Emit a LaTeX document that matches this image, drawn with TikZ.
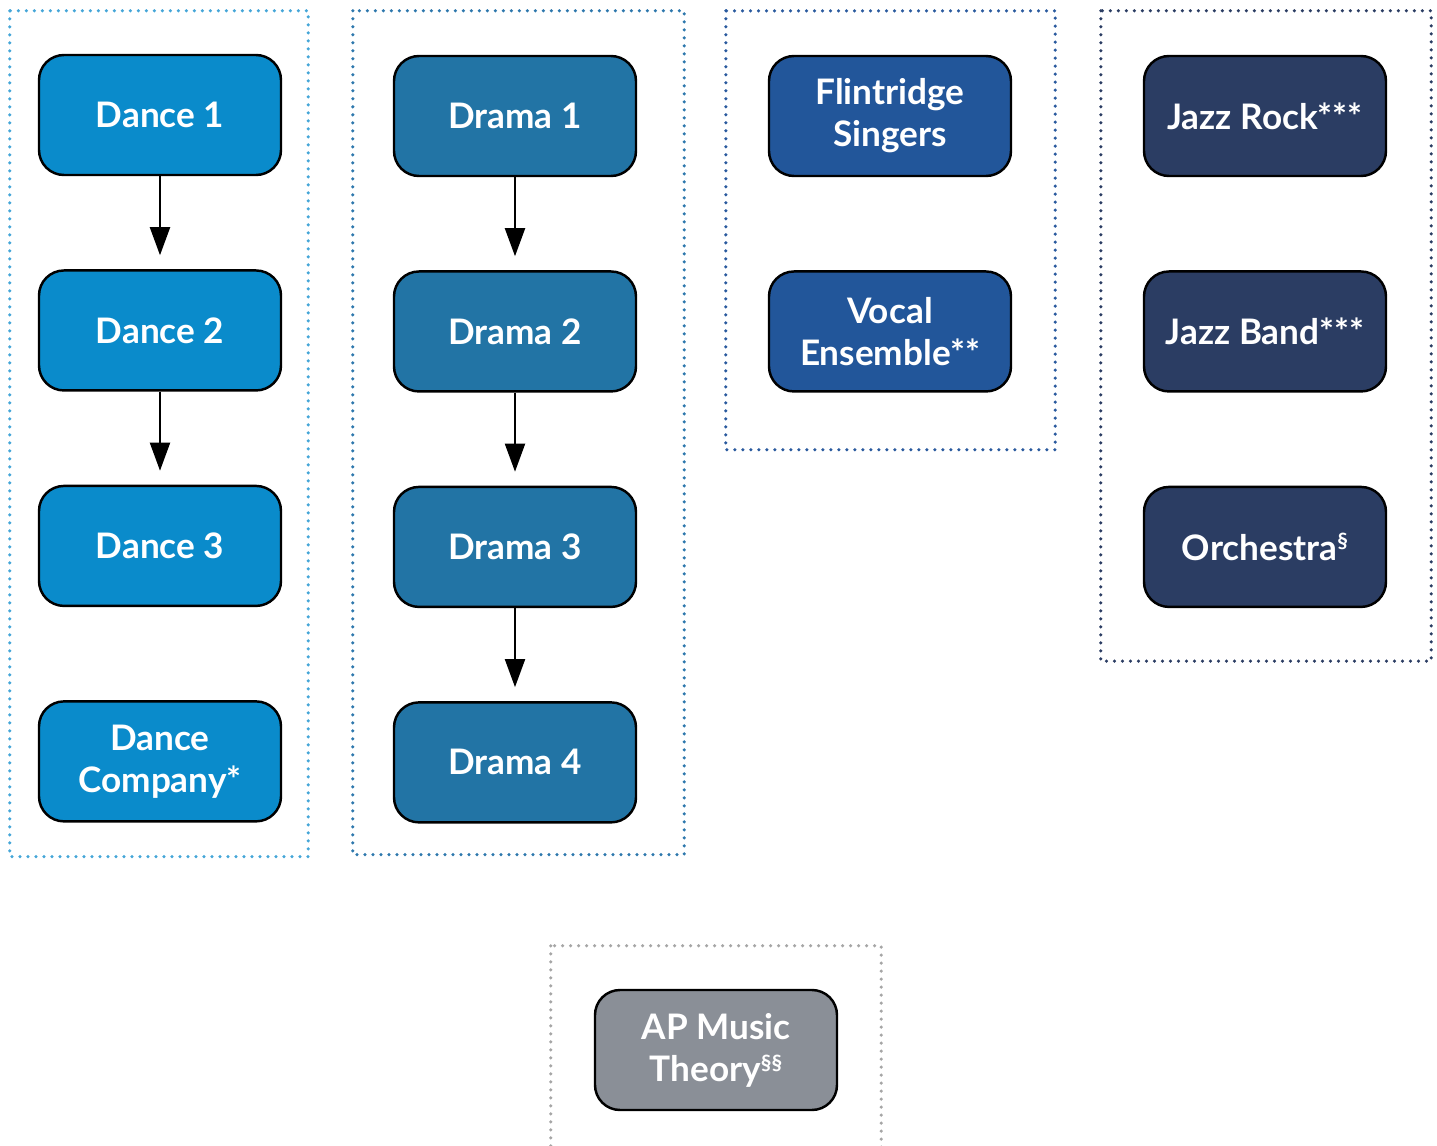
\documentclass[tikz,border=0pt]{standalone}
\usepackage{fontspec}
\setmainfont{Lato}
\usetikzlibrary{calc,positioning,arrows.meta}
\definecolor{dancefill}{HTML}{0A8BCB}
\definecolor{dramafill}{HTML}{2274A5}
\definecolor{singfill}{HTML}{22569A}
\definecolor{jazzfill}{HTML}{2B3D63}
\definecolor{theoryfill}{HTML}{8A8F97}
\definecolor{danceline}{HTML}{45A6D8}
\definecolor{dramaline}{HTML}{2E78AD}
\definecolor{singline}{HTML}{2A5A9E}
\definecolor{jazzline}{HTML}{2B3D63}
\definecolor{theoryline}{HTML}{A6A6A6}
\newcommand{\note}[1]{\raisebox{0.62ex}{\fontsize{12}{12}\selectfont #1}}

\begin{document}
\begin{tikzpicture}
\tikzset{course/.style={shape=rectangle,draw=black,line width=1.4pt,rounded corners=0.5cm,minimum width=4.84cm,minimum height=2.4cm,align=center,text=white,font=\fontsize{20}{24}\selectfont\bfseries}}
\tikzset{group/.style={line width=0.07cm,dash pattern=on 0pt off 0.16cm,line cap=round}}
\tikzset{seq/.style={-{Triangle[length=0.56cm,width=0.4cm]},line width=0.04cm,shorten >=0.28cm}}
\def\gap{1.86cm}
\useasboundingbox (0,0) rectangle (28.74,-22.92);
%
% dance
\node at (3.2,-2.3) [course,fill=dancefill] (dance1) {Dance 1};
\node [course,fill=dancefill,below=\gap of dance1] (dance2) {Dance 2};
\node [course,fill=dancefill,below=\gap of dance2] (dance3) {Dance 3};
\node [course,fill=dancefill,below=\gap of dance3] (dancecomp) {Dance\\Company*};
\draw[seq] (dance1) -- (dance2);
\draw[seq] (dance2) -- (dance3);
\draw[group,danceline] ($(dance1.north west)+(-0.56,0.86)$) rectangle ($(dancecomp.south east)+(0.52,-0.68)$);
%
% drama
\node at (10.3,-2.32) [course,fill=dramafill] (drama1) {Drama 1};
\node [course,fill=dramafill,below=\gap of drama1] (drama2) {Drama 2};
\node [course,fill=dramafill,below=\gap of drama2] (drama3) {Drama 3};
\node [course,fill=dramafill,below=\gap of drama3] (drama4) {Drama 4};
\draw[seq] (drama1) -- (drama2);
\draw[seq] (drama2) -- (drama3);
\draw[seq] (drama3) -- (drama4);
\draw[group,dramaline] ($(drama1.north west)+(-0.8,0.88)$) rectangle ($(drama4.south east)+(0.94,-0.62)$);
%
% singers
\node at (17.8,-2.32) [course,fill=singfill] (singers) {Flintridge\\Singers};
\node [course,fill=singfill,below=\gap of singers] (vocal) {Vocal\\Ensemble**};
\draw[group,singline] ($(singers.north west)+(-0.84,0.88)$) rectangle ($(vocal.south east)+(0.86,-1.14)$);
%
% jazz
\node at (25.3,-2.32) [course,fill=jazzfill] (jazzrock) {Jazz Rock***};
\node [course,fill=jazzfill,below=\gap of jazzrock] (jazzband) {Jazz Band***};
\node [course,fill=jazzfill,below=\gap of jazzband] (orchestra) {Orchestra\note{§}};
\draw[group,jazzline] ($(jazzrock.north west)+(-0.84,0.88)$) rectangle ($(orchestra.south east)+(0.88,-1.06)$);
%
% theory
\node at (14.32,-21.0) [course,fill=theoryfill] (theory) {AP Music\\Theory\note{§§}};
\draw[group,theoryline] ($(theory.north west)+(-0.86,0.86)$) rectangle ($(theory.south east)+(0.86,-1.4)$);
\end{tikzpicture}
\end{document}
